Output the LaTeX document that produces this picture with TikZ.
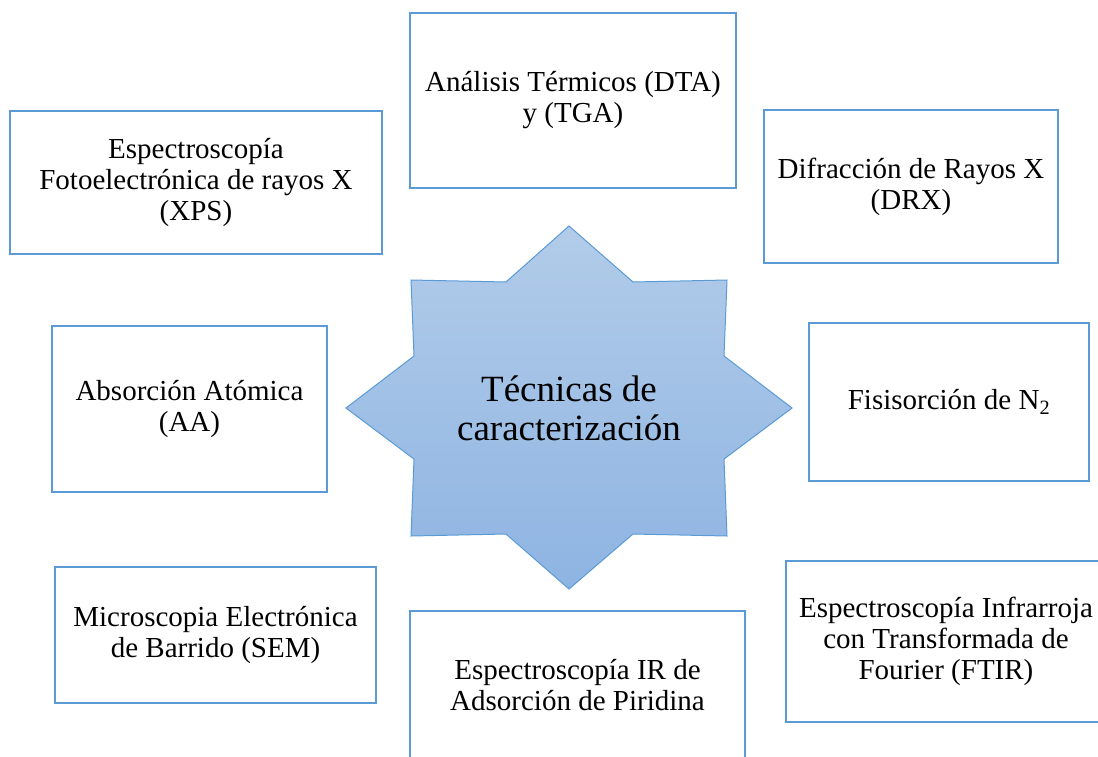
\documentclass[tikz,border=0pt]{standalone}
\usepackage{fontspec}
\setmainfont{Liberation Serif}
\newfontfamily\tnrfont{Liberation Serif}
\definecolor{boxblue}{HTML}{5B9BD5}
\definecolor{startop}{HTML}{B2CCE9}
\definecolor{starbot}{HTML}{8EB4E2}
\begin{document}
\begin{tikzpicture}[x=1pt,y=-1pt,
  techbox/.style={draw=boxblue, line width=2.2pt, fill=white, rectangle, align=center,
    inner sep=0pt, font=\tnrfont\fontsize{29}{31}\selectfont},
  startext/.style={align=center, font=\tnrfont\fontsize{37}{39}\selectfont, inner sep=0pt}]
\useasboundingbox (0,0) rectangle (1098,756);
\clip (0,0) rectangle (1098,756);
\fill[white] (0,0) rectangle (1098,756);
% star
\shade[top color=startop, bottom color=starbot, draw=boxblue, line width=1pt, line join=miter]
  (569,226) -- (506,282) -- (411,280) -- (414,356) -- (346,408) -- (414,459) -- (411,536)
  -- (506,534) -- (569,589) -- (633,534) -- (727,536) -- (724,459) -- (792,408)
  -- (724,356) -- (727,280) -- (633,282) -- cycle;
\node[startext] (center) at (569,408) {Técnicas de\\caracterización};
% boxes
\node[techbox, minimum width=326, minimum height=175] (dta) at (573,100.5)
  {Análisis Térmicos (DTA)\\y (TGA)};
\node[techbox, minimum width=372, minimum height=143] (xps) at (196,182.5)
  {Espectroscopía\\Fotoelectrónica de rayos X\\(XPS)};
\node[techbox, minimum width=294, minimum height=153] (drx) at (911,186.5)
  {Difracción de Rayos X\\(DRX)};
\node[techbox, minimum width=275, minimum height=166] (aa) at (189.5,409)
  {Absorción Atómica\\(AA)};
\node[techbox, minimum width=280, minimum height=158] (fis) at (949,402)
  {Fisisorción de N\textsubscript{2}};
\node[techbox, minimum width=321, minimum height=136] (sem) at (215.5,635)
  {Microscopia Electrónica\\de Barrido (SEM)};
\node[techbox, minimum width=335, minimum height=148] (pir) at (577.5,685)
  {Espectroscopía IR de\\Adsorción de Piridina};
\node[techbox, minimum width=320, minimum height=161] (ftir) at (946,641.5)
  {Espectroscopía Infrarroja\\con Transformada de\\Fourier (FTIR)};
\end{tikzpicture}
\end{document}
